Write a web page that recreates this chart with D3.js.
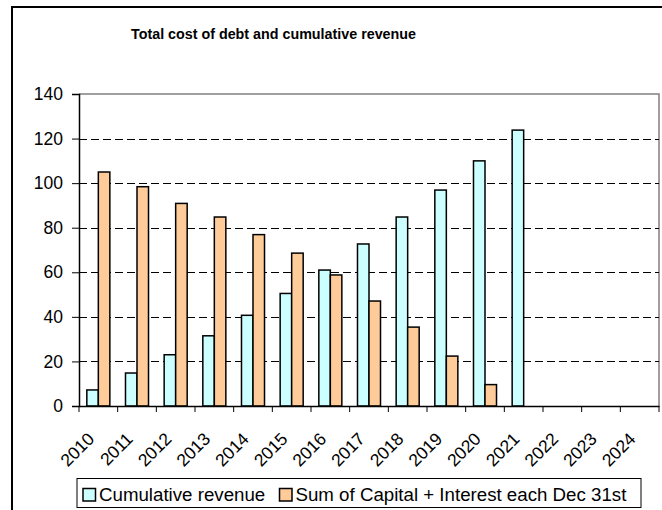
<!DOCTYPE html>
<html><head><meta charset="utf-8">
<script src="https://cdn.jsdelivr.net/npm/d3@7"></script>
<style>body{margin:0;background:#fff}svg{display:block;font-family:"Liberation Sans",Arial,sans-serif}</style>
</head><body><svg id="c" width="662" height="510"></svg>
<script>
const categories = ["2010","2011","2012","2013","2014","2015","2016","2017","2018","2019","2020","2021","2022","2023","2024"];
const revenue = [7.2,14.8,23,31.5,40.7,50.5,61,72.7,84.8,96.9,110,123.8,null,null,null];
const debt = [105,98.4,90.9,84.8,76.9,68.6,58.8,47.1,35.4,22.4,9.6,null,null,null,null];
const seriesNames = ["Cumulative revenue","Sum of Capital + Interest each Dec 31st"];
const yTicks = [0,20,40,60,80,100,120,140];
const colors = ["#ccffff","#ffcc99"];

const svg = d3.select("#c");
// outer frame
svg.append("rect").attr("x",12).attr("y",7).attr("width",700).attr("height",600)
  .attr("fill","#fff").attr("stroke","#000").attr("stroke-width",2);

const L=79,R=659,T=94,B=406;
const x = d3.scaleBand().domain(categories).range([L,R]);
const y = d3.scaleLinear().domain([0,140]).range([B,T]);
const inner = d3.scaleBand().domain([0,1]).range([0,x.bandwidth()]).paddingInner(0).paddingOuter(0.68);

svg.append("text").attr("x",273.5).attr("y",39).attr("text-anchor","middle")
  .attr("font-weight","bold").attr("font-size",14.3).text("Total cost of debt and cumulative revenue");

// plot border top/right
svg.append("path").attr("d",`M${L},${T}H${R}V${B}`).attr("fill","none").attr("stroke","#808080").attr("stroke-width",1.5);
// gridlines
svg.append("g").selectAll("line").data(yTicks.filter(d=>d>0&&d<140)).join("line")
  .attr("x1",L).attr("x2",R).attr("y1",d=>Math.round(y(d))+0.5).attr("y2",d=>Math.round(y(d))+0.5)
  .attr("stroke","#000").attr("stroke-dasharray","8,4");

const data = [revenue,debt];
data.forEach((s,i)=>{
  svg.append("g").selectAll("rect").data(categories.map((c,j)=>({c,v:s[j]})).filter(d=>d.v!=null)).join("rect")
    .attr("x",d=>x(d.c)+inner(i)).attr("width",inner.bandwidth())
    .attr("y",d=>y(d.v)).attr("height",d=>B-y(d.v))
    .attr("fill",colors[i]).attr("stroke","#000").attr("stroke-width",1.5);
});

// y axis
const ya = svg.append("g").attr("transform",`translate(${L},0)`).call(d3.axisLeft(y).tickValues(yTicks).tickSize(7).tickPadding(9));
ya.select(".domain").attr("stroke","#000").attr("stroke-width",1.5);
ya.selectAll("text").attr("font-size",17.5).attr("fill","#000").attr("font-family","Liberation Sans, Arial, sans-serif");
// x axis
const xa = svg.append("g").attr("transform",`translate(0,${B})`).call(d3.axisBottom(x).tickSize(0).tickFormat(""));
xa.select(".domain").attr("stroke","#000").attr("stroke-width",1.5);
svg.append("g").selectAll("line").data(categories.concat(["end"])).join("line")
  .attr("x1",(d,i)=>L+i*x.step()).attr("x2",(d,i)=>L+i*x.step()).attr("y1",B).attr("y2",B+6).attr("stroke","#000");
svg.append("g").selectAll("text").data(categories).join("text")
  .attr("transform",d=>`translate(${x(d)+x.bandwidth()/2-3},${B+34}) rotate(-45)`)
  .attr("text-anchor","end").attr("font-size",17.5).text(d=>d);

// legend
const lg = svg.append("g");
lg.append("rect").attr("x",77).attr("y",478.5).attr("width",564).attr("height",29).attr("fill","#fff").attr("stroke","#000");
const lx = [83, 279.5];
seriesNames.forEach((n,i)=>{
  lg.append("rect").attr("x",lx[i]).attr("y",488.5).attr("width",12.5).attr("height",12.5).attr("fill",colors[i]).attr("stroke","#000").attr("stroke-width",1.5);
  lg.append("text").attr("x",lx[i]+16).attr("y",501).attr("font-size",18.7).text(n);
});
</script></body></html>
